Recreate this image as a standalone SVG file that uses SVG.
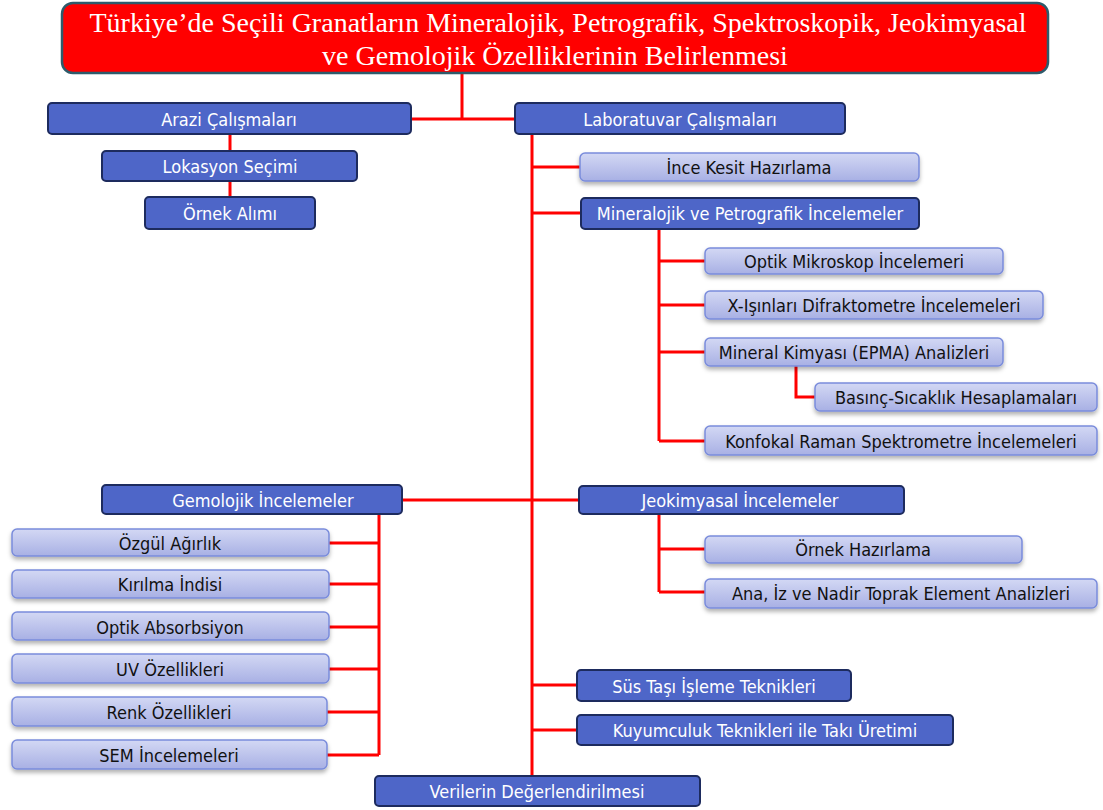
<svg xmlns="http://www.w3.org/2000/svg" width="1103" height="810" viewBox="0 0 1103 810">
<style>
.dk{fill:#4E66C8;stroke:#1D2B5E;stroke-width:2}
.lt{fill:url(#lg);stroke:#7A8CDB;stroke-width:1.5;filter:url(#sh)}
.tw{font-family:"DejaVu Sans Condensed","DejaVu Sans",sans-serif;font-size:18px;fill:#fff;text-anchor:middle;dominant-baseline:central}
.tb{font-family:"DejaVu Sans Condensed","DejaVu Sans",sans-serif;font-size:18px;fill:#111;text-anchor:middle;dominant-baseline:central}
.ln{stroke:#FF0000;stroke-width:3;fill:none}
</style>
<defs>
<linearGradient id="lg" x1="0" y1="0" x2="0" y2="1">
<stop offset="0" stop-color="#D3D8F4"/>
<stop offset="1" stop-color="#A8B0E4"/>
</linearGradient>
<filter id="sh" x="-5%" y="-20%" width="110%" height="160%">
<feDropShadow dx="0" dy="3" stdDeviation="2" flood-color="#000" flood-opacity="0.3"/>
</filter>
</defs>
<rect width="1103" height="810" fill="#fff"/>
<g id="connectors">
<path class="ln" d="M462,73 V119 M411,119 H515"/>
<path class="ln" d="M230,134 V151 M230,181 V197"/>
<path class="ln" d="M532,134 V776 M532,167 H580 M532,213 H581 M402,500 H579 M532,685 H577 M532,730 H577"/>
<path class="ln" d="M659,229 V441 M659,261 H705 M659,305 H705 M659,352 H705 M659,441 H705"/>
<path class="ln" d="M796,366 V397 H815"/>
<path class="ln" d="M659,514 V592 M659,549 H705 M659,592 H705"/>
<path class="ln" d="M379,514 V755 M329,543 H379 M329,584 H379 M329,627 H379 M329,669 H379 M327,712 H379 M327,755 H379"/>
</g>
<g id="title">
<rect x="62" y="3" width="986" height="70" rx="11" fill="#FF0000" stroke="#2E5B6B" stroke-width="2.5"/>
<text x="558" y="32" font-family="Liberation Serif,serif" font-size="28" fill="#fff" text-anchor="middle">Türkiye’de Seçili Granatların Mineralojik, Petrografik, Spektroskopik, Jeokimyasal</text>
<text x="555" y="65" font-family="Liberation Serif,serif" font-size="28" fill="#fff" text-anchor="middle">ve Gemolojik Özelliklerinin Belirlenmesi</text>
</g>
<g id="arazi"><rect class="dk" x="48" y="103" width="363" height="31" rx="4"/><text class="tw" x="229" y="119">Arazi Çalışmaları</text></g>
<g id="lokasyon"><rect class="dk" x="102" y="151" width="255" height="30" rx="4"/><text class="tw" x="230" y="166">Lokasyon Seçimi</text></g>
<g id="ornek-alimi"><rect class="dk" x="145" y="197" width="170" height="32" rx="4"/><text class="tw" x="230" y="213">Örnek Alımı</text></g>
<g id="laboratuvar"><rect class="dk" x="515" y="103" width="330" height="31" rx="4"/><text class="tw" x="680" y="119">Laboratuvar Çalışmaları</text></g>
<g id="ince-kesit"><rect class="lt" x="580" y="153" width="339" height="28" rx="5"/><text class="tb" x="749" y="167">İnce Kesit Hazırlama</text></g>
<g id="mineralojik"><rect class="dk" x="581" y="198" width="338" height="31" rx="4"/><text class="tw" x="750" y="213">Mineralojik ve Petrografik İncelemeler</text></g>
<g id="optik-mikroskop"><rect class="lt" x="705" y="248" width="298" height="26" rx="5"/><text class="tb" x="854" y="261">Optik Mikroskop İncelemeri</text></g>
<g id="xrd"><rect class="lt" x="705" y="291" width="338" height="28" rx="5"/><text class="tb" x="874" y="305">X-Işınları Difraktometre İncelemeleri</text></g>
<g id="epma"><rect class="lt" x="705" y="338" width="298" height="28" rx="5"/><text class="tb" x="854" y="352">Mineral Kimyası (EPMA) Analizleri</text></g>
<g id="basinc"><rect class="lt" x="815" y="383" width="282" height="28" rx="5"/><text class="tb" x="956" y="397">Basınç-Sıcaklık Hesaplamaları</text></g>
<g id="raman"><rect class="lt" x="705" y="426" width="392" height="29" rx="5"/><text class="tb" x="901" y="441">Konfokal Raman Spektrometre İncelemeleri</text></g>
<g id="gemolojik"><rect class="dk" x="102" y="485" width="300" height="29" rx="4"/><text class="tw" x="263" y="500">Gemolojik İncelemeler</text></g>
<g id="jeokimyasal"><rect class="dk" x="579" y="486" width="325" height="28" rx="4"/><text class="tw" x="740" y="500">Jeokimyasal İncelemeler</text></g>
<g id="ornek-hazirlama"><rect class="lt" x="705" y="536" width="317" height="27" rx="5"/><text class="tb" x="863" y="549">Örnek Hazırlama</text></g>
<g id="ana-iz"><rect class="lt" x="705" y="579" width="392" height="29" rx="5"/><text class="tb" x="901" y="593">Ana, İz ve Nadir Toprak Element Analizleri</text></g>
<g id="ozgul"><rect class="lt" x="12" y="529" width="317" height="27" rx="5"/><text class="tb" x="170" y="543">Özgül Ağırlık</text></g>
<g id="kirilma"><rect class="lt" x="12" y="570" width="317" height="28" rx="5"/><text class="tb" x="170" y="584">Kırılma İndisi</text></g>
<g id="optik-abs"><rect class="lt" x="12" y="612" width="317" height="28" rx="5"/><text class="tb" x="170" y="627">Optik Absorbsiyon</text></g>
<g id="uv"><rect class="lt" x="12" y="654" width="317" height="29" rx="5"/><text class="tb" x="170" y="669">UV Özellikleri</text></g>
<g id="renk"><rect class="lt" x="12" y="697" width="315" height="29" rx="5"/><text class="tb" x="169" y="712">Renk Özellikleri</text></g>
<g id="sem"><rect class="lt" x="12" y="740" width="315" height="29" rx="5"/><text class="tb" x="169" y="755">SEM İncelemeleri</text></g>
<g id="sus-tasi"><rect class="dk" x="577" y="670" width="274" height="31" rx="4"/><text class="tw" x="714" y="686">Süs Taşı İşleme Teknikleri</text></g>
<g id="kuyumculuk"><rect class="dk" x="577" y="715" width="376" height="30" rx="4"/><text class="tw" x="765" y="730">Kuyumculuk Teknikleri ile Takı Üretimi</text></g>
<g id="verilerin"><rect class="dk" x="375" y="776" width="325" height="30" rx="4"/><text class="tw" x="537" y="791">Verilerin Değerlendirilmesi</text></g>
</svg>
